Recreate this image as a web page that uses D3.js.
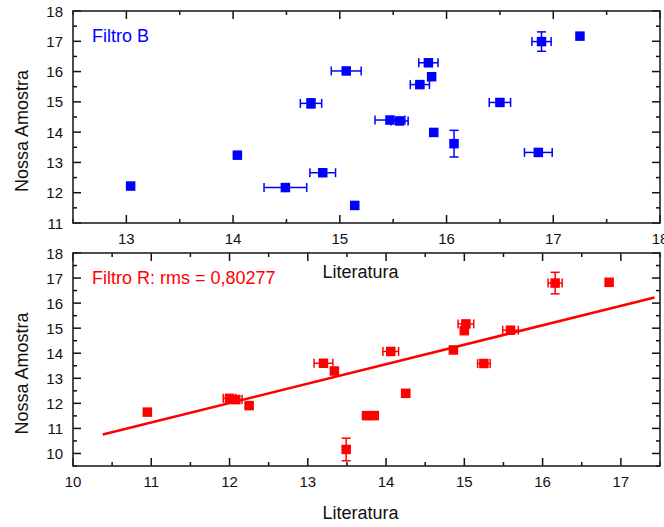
<!DOCTYPE html>
<html>
<head>
<meta charset="utf-8">
<script src="https://cdn.jsdelivr.net/npm/d3@7"></script>
<style>
  body { margin: 0; background: #fff; }
  text { font-family: "Liberation Sans", Arial, sans-serif; }
</style>
</head>
<body>
<svg id="chart"></svg>
<script>
// Filtro B (blue, top)
const blueLit      = [13.04, 14.04, 14.49, 14.73, 14.84, 15.06, 15.14, 15.47, 15.56, 15.75, 15.83, 15.86, 15.88, 16.07, 16.50, 16.86, 16.89, 17.25];
const blueOurs     = [12.22, 13.24, 12.17, 14.95, 12.66, 16.02, 11.58, 14.40, 14.37, 15.57, 16.29, 15.83, 13.99, 13.62, 14.98, 13.33, 16.99, 17.17];
const blueLitErr   = [0,     0,     0.20,  0.10,  0.12,  0.14,  0,     0.14,  0.08,  0.09,  0.09,  0,     0,     0,     0.10,  0.13,  0.09,  0];
const blueOursErr  = [0,     0,     0,     0.15,  0,     0,     0,     0,     0,     0.07,  0,     0.05,  0.05,  0.44,  0,     0,     0.32,  0];

// Filtro R (red, bottom)
const redLit       = [10.95, 12.00, 12.08, 12.25, 13.20, 13.34, 13.49, 13.75, 13.85, 14.06, 14.25, 14.86, 15.00, 15.02, 15.25, 15.59, 16.16, 16.85];
const redOurs      = [11.65, 12.20, 12.15, 11.91, 13.60, 13.29, 10.16, 11.51, 11.51, 14.07, 12.40, 14.13, 14.90, 15.17, 13.59, 14.92, 16.80, 16.83];
const redLitErr    = [0,     0.08,  0.08,  0,     0.12,  0,     0,     0,     0,     0.10,  0.05,  0,     0,     0.10,  0.08,  0.10,  0.09,  0];
const redOursErr   = [0,     0,     0,     0.10,  0,     0,     0.45,  0,     0,     0,     0,     0,     0,     0,     0,     0,     0.43,  0];

// linear fit for Filtro R
const fitSlope = 0.776;
const fitIntercept = 2.70;
const fitRange = [10.38, 17.43];

// tick labels
const topXTicks = [13, 14, 15, 16, 17, 18];
const topYTicks = [11, 12, 13, 14, 15, 16, 17, 18];
const botXTicks = [10, 11, 12, 13, 14, 15, 16, 17];
const botYTicks = [10, 11, 12, 13, 14, 15, 16, 17, 18];

const W = 664, H = 527;
const svg = d3.select('#chart').attr('width', W).attr('height', H);
svg.append('rect').attr('width', W).attr('height', H).attr('fill', '#fff');

function panel(cfg) {
  const x = d3.scaleLinear().domain(cfg.xDomain).range([cfg.left, cfg.right]);
  const y = d3.scaleLinear().domain(cfg.yDomain).range([cfg.bottom, cfg.top]);
  const g = svg.append('g');

  // minor ticks every 0.5, major at integers
  const halfX = d3.range(Math.ceil(cfg.xDomain[0] * 2) / 2, cfg.xDomain[1] + 0.01, 0.5);
  const halfY = d3.range(Math.ceil(cfg.yDomain[0] * 2) / 2, cfg.yDomain[1] + 0.01, 0.5);
  const len = v => Number.isInteger(v) ? 8 : 4;

  halfX.forEach(v => {
    g.append('line').attr('x1', x(v)).attr('x2', x(v))
      .attr('y1', cfg.bottom).attr('y2', cfg.bottom - len(v)).attr('stroke', '#111').attr('stroke-width', 1.5);
    g.append('line').attr('x1', x(v)).attr('x2', x(v))
      .attr('y1', cfg.top).attr('y2', cfg.top + len(v)).attr('stroke', '#111').attr('stroke-width', 1.5);
  });
  halfY.forEach(v => {
    g.append('line').attr('y1', y(v)).attr('y2', y(v))
      .attr('x1', cfg.left).attr('x2', cfg.left + len(v)).attr('stroke', '#111').attr('stroke-width', 1.5);
    g.append('line').attr('y1', y(v)).attr('y2', y(v))
      .attr('x1', cfg.right).attr('x2', cfg.right - len(v)).attr('stroke', '#111').attr('stroke-width', 1.5);
  });

  // frame
  g.append('rect')
    .attr('x', cfg.left).attr('y', cfg.top)
    .attr('width', cfg.right - cfg.left).attr('height', cfg.bottom - cfg.top)
    .attr('fill', 'none').attr('stroke', '#222').attr('stroke-width', 1.6);

  // tick labels
  g.selectAll('.xl').data(cfg.xTicks).join('text')
    .attr('x', d => x(d)).attr('y', cfg.bottom + 21)
    .attr('text-anchor', 'middle').style('font-size', '15px').attr('fill', '#111')
    .text(d => d);
  g.selectAll('.yl').data(cfg.yTicks).join('text')
    .attr('x', cfg.left - 10).attr('y', d => y(d) + 5.5)
    .attr('text-anchor', 'end').style('font-size', '15px').attr('fill', '#111')
    .text(d => d);

  // axis titles
  svg.append('text')
    .attr('x', (cfg.left + cfg.right) / 2 - 6).attr('y', cfg.bottom + cfg.xTitleOffset)
    .attr('text-anchor', 'middle').style('font-size', '18px').attr('fill', '#111')
    .text('Literatura');
  svg.append('text')
    .attr('transform', `translate(28,${(cfg.top + cfg.bottom) / 2 + 14}) rotate(-90)`)
    .attr('text-anchor', 'middle').style('font-size', '18px').attr('fill', '#111')
    .text('Nossa Amostra');

  // fit line
  if (cfg.fit) {
    g.append('line')
      .attr('x1', x(cfg.fit.range[0])).attr('y1', y(cfg.fit.slope * cfg.fit.range[0] + cfg.fit.intercept))
      .attr('x2', x(cfg.fit.range[1])).attr('y2', y(cfg.fit.slope * cfg.fit.range[1] + cfg.fit.intercept))
      .attr('stroke', cfg.color).attr('stroke-width', 2.6);
  }

  // error bars
  const pts = cfg.xs.map((v, i) => ({ x: v, y: cfg.ys[i], ex: cfg.exs[i], ey: cfg.eys[i] }));
  const cap = 4.5;
  pts.forEach(p => {
    if (p.ex > 0) {
      g.append('line').attr('x1', x(p.x - p.ex)).attr('x2', x(p.x + p.ex))
        .attr('y1', y(p.y)).attr('y2', y(p.y)).attr('stroke', cfg.color).attr('stroke-width', 1.5);
      [p.x - p.ex, p.x + p.ex].forEach(e => g.append('line')
        .attr('x1', x(e)).attr('x2', x(e)).attr('y1', y(p.y) - cap).attr('y2', y(p.y) + cap)
        .attr('stroke', cfg.color).attr('stroke-width', 1.5));
    }
    if (p.ey > 0) {
      g.append('line').attr('x1', x(p.x)).attr('x2', x(p.x))
        .attr('y1', y(p.y - p.ey)).attr('y2', y(p.y + p.ey)).attr('stroke', cfg.color).attr('stroke-width', 1.5);
      [p.y - p.ey, p.y + p.ey].forEach(e => g.append('line')
        .attr('x1', x(p.x) - cap).attr('x2', x(p.x) + cap).attr('y1', y(e)).attr('y2', y(e))
        .attr('stroke', cfg.color).attr('stroke-width', 1.5));
    }
  });

  // markers
  const s = 9.5;
  g.selectAll('.pt').data(pts).join('rect')
    .attr('x', d => x(d.x) - s / 2).attr('y', d => y(d.y) - s / 2)
    .attr('width', s).attr('height', s).attr('fill', cfg.color);

  // label
  svg.append('text')
    .attr('x', cfg.left + 19).attr('y', cfg.top + 31)
    .style('font-size', '18px').attr('fill', cfg.color)
    .text(cfg.label);
}

panel({
  left: 73, right: 660, top: 11, bottom: 223,
  xDomain: [12.5, 18], yDomain: [11, 18],
  xTicks: topXTicks, yTicks: topYTicks,
  xs: blueLit, ys: blueOurs, exs: blueLitErr, eys: blueOursErr,
  color: '#0000ff', label: 'Filtro B', xTitleOffset: 55
});

panel({
  left: 73, right: 660, top: 253, bottom: 466,
  xDomain: [10, 17.5], yDomain: [9.5, 18],
  xTicks: botXTicks, yTicks: botYTicks,
  xs: redLit, ys: redOurs, exs: redLitErr, eys: redOursErr,
  color: '#ff0000', label: 'Filtro R: rms = 0,80277', xTitleOffset: 53,
  fit: { slope: fitSlope, intercept: fitIntercept, range: fitRange }
});
</script>
</body>
</html>
